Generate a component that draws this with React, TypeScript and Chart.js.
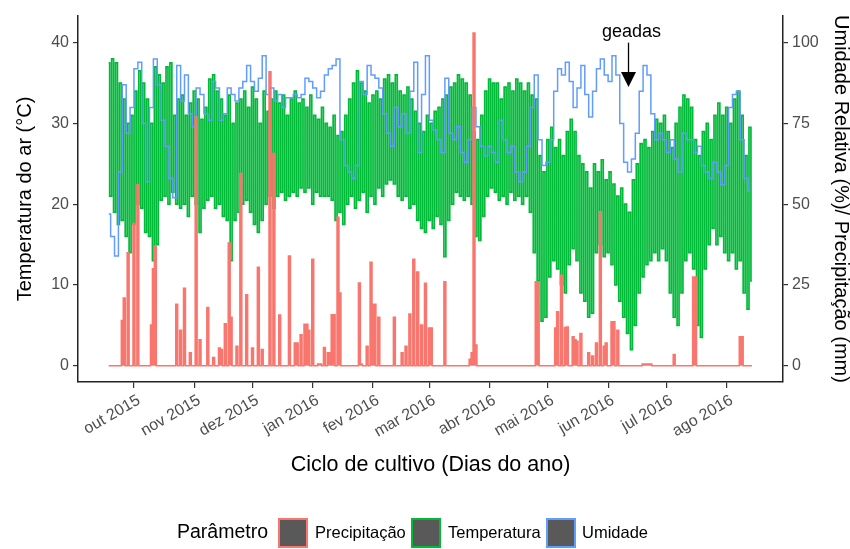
import React, { useEffect, useRef } from "react";
import { Chart, registerables } from "chart.js";
Chart.register(...registerables);

// ---- axis / category info ----
const referenceDay = "2015-10-01"; // day 0
const monthLabels = ["out 2015", "nov 2015", "dez 2015", "jan 2016", "fev 2016", "mar 2016", "abr 2016", "mai 2016", "jun 2016", "jul 2016", "ago 2016"];
const monthStarts = ["2015-10-01", "2015-11-01", "2015-12-01", "2016-01-01", "2016-02-01", "2016-03-01", "2016-04-01", "2016-05-01", "2016-06-01", "2016-07-01", "2016-08-01"];
const tempTicks = [0, 10, 20, 30, 40];
const humTicks = [0, 25, 50, 75, 100];

// samples every 2 days starting 2015-09-18 (day -13)
const sampleFirstDay = -13;
const sampleStep = 2;

// daily maximum temperature (°C) at each sample
const tempMax = [
  37.5, 38, 37.5, 35, 33, 30, 31, 34, 36.5, 35, 33, 30, 37, 36, 35, 37, 37.5, 31, 33, 33.5, 31, 32.5, 34, 33, 30.5, 32, 35.5, 36,
  34, 33, 31, 33.5, 30, 32.5, 33, 34, 32, 34.5, 33, 30, 34, 31.5, 33, 34, 32.5, 33.5, 31, 33, 34, 32.5, 33, 32, 33.5, 31, 30.5, 32,
  30, 29.5, 31, 28.5, 29, 31, 33, 35, 36.5, 35, 34, 32.5, 33.5, 34, 33, 35.5, 36, 35, 36, 34, 33.5, 34.5, 33, 31.5, 30, 29, 31, 30,
  31.5, 32, 33, 33.5, 34.5, 35, 36, 35.5, 35, 33.5, 29, 28, 31, 34, 35.5, 35, 35, 33, 34.5, 35, 34, 35.5, 35, 34, 35, 33.5, 33,
  26, 24, 28, 29.5, 27, 28, 26, 29, 30.5, 29, 26, 25, 24, 22, 25, 24, 25.5, 23, 24, 22.5, 21, 22, 20, 19, 23, 25, 27.5, 28,
  27, 29, 30.5, 30, 31, 29, 27, 30, 32, 33.5, 33, 32, 28, 26, 29, 30, 28, 31, 32.5, 31, 32, 30, 33, 34, 31, 26, 29.5,
];
// daily minimum temperature (°C), the day after each sample
const tempMin = [
  21, 19, 17.5, 18, 16, 14, 17.5, 20, 19.5, 16.5, 16, 13, 15, 20.5, 21, 20, 21.5, 20, 19.5, 20, 18.5, 21, 20, 16.5, 19.5, 20.5, 21, 19.5,
  20, 18.5, 18, 13, 18, 19, 20, 20.5, 19, 17.5, 16.5, 18, 20, 21, 19.5, 21, 21.5, 20.5, 21, 21.5, 21, 22, 21.5, 22, 20, 21.5, 21, 21,
  21, 20.5, 18, 19, 17.5, 20, 21, 19.5, 20.5, 21.5, 19, 21, 20, 22, 21, 22.5, 23, 22.5, 21, 20.5, 21, 19.5, 20, 18, 17, 16.5, 18, 17,
  18.5, 17.5, 13.5, 18, 20, 21.5, 21, 20.5, 21, 20, 16, 15.5, 18.5, 21, 22, 21.5, 20.5, 21, 20, 21.5, 20.5, 21, 20, 21, 19, 14, 10.5,
  5.5, 6, 11, 13, 12, 10, 9, 12.5, 14.5, 13, 9, 8, 6, 6.5, 14, 15, 13.5, 14, 12.5, 10, 8, 6, 4, 2, 5, 9, 11, 12.5,
  13, 14, 13, 14.5, 13, 9, 6, 5, 9, 13, 14, 12, 5, 3.5, 12, 15, 17, 15, 16, 14, 13, 14, 12, 13, 9, 7, 10.5,
];
// relative humidity (%) at each sample
const humidity = [
  47, 40, 34, 60, 87, 72, 80, 92, 94, 75, 57, 80, 95, 87, 76, 68, 58, 52, 93, 82, 90, 78, 74, 86, 84, 78, 76, 88,
  86, 76, 78, 86, 84, 82, 86, 88, 93, 88, 85, 89, 96, 84, 86, 82, 84, 80, 83, 83, 84, 83, 84, 89, 88, 86, 83, 85,
  90, 92, 93, 95, 70, 62, 60, 58, 62, 88, 84, 93, 90, 89, 86, 78, 72, 68, 80, 74, 78, 72, 85, 94, 66, 84, 96, 76,
  73, 70, 66, 89, 72, 70, 74, 66, 63, 70, 80, 74, 68, 65, 68, 66, 63, 76, 70, 66, 68, 60, 57, 60, 68, 80, 90,
  70, 62, 63, 70, 85, 92, 90, 94, 88, 80, 86, 93, 84, 77, 85, 92, 95, 90, 88, 96, 90, 75, 63, 60, 64, 72, 85, 93,
  90, 78, 70, 72, 70, 66, 70, 64, 60, 72, 70, 70, 66, 68, 62, 60, 58, 63, 60, 56, 62, 80, 84, 85, 70, 58, 54,
];

// rainfall events (day relative to 2015-10-01, mm); all other days 0 mm
const precipFirstDay = -13;
const precipLastDay = 318;
const precipDays = [
  -6, -5, -3, 0, 2, 9, 10, 11, 22, 24, 26, 29, 32, 34, 38, 41, 44, 45, 47, 49, 50, 53, 55, 58, 61, 64, 66, 70, 72, 75,
  80, 83, 84, 86, 88, 89, 90, 92, 95, 96, 98, 100, 101, 102, 103, 105, 106, 116, 117, 120, 122, 123, 124, 126, 134, 138,
  140, 142, 144, 146, 148, 150, 152, 153, 160, 173, 174, 175, 176, 207, 208, 217, 218, 220, 222, 223, 226, 227, 228, 230,
  234, 236, 238, 240, 242, 243, 246, 247, 249, 262, 263, 264, 265, 266, 278, 288, 289, 312, 313,
];
const precipMm = [
  14, 21, 35, 44, 56, 12.6, 30, 37, 19, 11, 24, 4, 77, 8, 18, 2.5, 5.5, 5, 13, 38, 15, 6, 59.5, 22, 5.5, 30.5, 5, 91, 65.7, 15.7,
  34, 7, 7, 9.6, 12.8, 12.8, 11, 33, 0.5, 0.5, 5.6, 4, 4, 15.8, 15.8, 46, 22.5, 25.6, 0.5, 6, 32, 19, 19, 15, 15, 4,
  6, 16, 33, 29, 12.6, 25.5, 11.7, 11.7, 26, 2, 4, 103, 6.4, 26, 26, 11.7, 16.7, 28, 11.8, 12, 9, 8, 7.6, 10,
  4, 3, 7, 47.7, 6, 7, 13.6, 13.6, 11, 0.5, 0.5, 0.5, 0.5, 0.5, 3.5, 27.5, 27.5, 9, 9,
];

// annotation
const geadasLabel = "geadas";
const geadasDay = 254.5;
const geadasTextT = 41.3;
const geadasArrowFromT = 40.0;
const geadasArrowToT = 34.5;

const legendTitle = "Parâmetro";
const seriesNames = ["Precipitação", "Temperatura", "Umidade"];
const seriesColors = ["#F8766D", "#00BA38", "#619CFF"];

const dayOf = (s: string) => Math.round((Date.parse(s) - Date.parse(referenceDay)) / 86400000);

export default function App() {
  const ref = useRef<HTMLCanvasElement | null>(null);

  useEffect(() => {
    document.body.style.margin = "0";
    const canvas = ref.current;
    if (!canvas) return;
    Chart.defaults.font.family = "'Liberation Sans', Arial, Helvetica, sans-serif";

    const monthDays = monthStarts.map(dayOf);

    const tempPts: { x: number; y: number }[] = [];
    tempMax.forEach((v, i) => {
      const d = sampleFirstDay + i * sampleStep;
      tempPts.push({ x: d, y: v });
      tempPts.push({ x: d + 1, y: tempMin[i] });
    });
    const humPts = humidity.map((v, i) => ({ x: sampleFirstDay + i * sampleStep, y: v }));
    const rain = new Map<number, number>();
    precipDays.forEach((d, i) => rain.set(d, precipMm[i]));
    const precipPts: { x: number; y: number }[] = [];
    for (let d = precipFirstDay; d <= precipLastDay; d++) precipPts.push({ x: d, y: rain.get(d) ?? 0 });

    const overlay = {
      id: "overlay",
      afterDatasetsDraw(chart: any) {
        const ctx = chart.ctx;
        const xs = chart.scales.x;
        const yT = chart.scales.yT;
        const px = xs.getPixelForValue(geadasDay);
        ctx.save();
        ctx.fillStyle = "#000";
        ctx.strokeStyle = "#000";
        ctx.font = "18px 'Liberation Sans', Arial, sans-serif";
        ctx.textAlign = "center";
        ctx.textBaseline = "middle";
        ctx.fillText(geadasLabel, px + 3, yT.getPixelForValue(geadasTextT));
        const y0 = yT.getPixelForValue(geadasArrowFromT);
        const y1 = yT.getPixelForValue(geadasArrowToT);
        ctx.lineWidth = 1.3;
        ctx.beginPath();
        ctx.moveTo(px, y0);
        ctx.lineTo(px, y1 - 14);
        ctx.stroke();
        ctx.beginPath();
        ctx.moveTo(px - 7.5, y1 - 15);
        ctx.lineTo(px + 7.5, y1 - 15);
        ctx.lineTo(px, y1);
        ctx.closePath();
        ctx.fill();
        ctx.restore();
      },
      afterDraw(chart: any) {
        const ctx = chart.ctx;
        ctx.save();
        ctx.textBaseline = "middle";
        ctx.textAlign = "left";
        ctx.fillStyle = "#000";
        ctx.font = "19.5px 'Liberation Sans', Arial, sans-serif";
        const cy = 533;
        ctx.fillText(legendTitle, 177, cy);
        const boxX = [278, 411, 546];
        const textX = [315, 448, 582];
        ctx.font = "16.5px 'Liberation Sans', Arial, sans-serif";
        seriesNames.forEach((name, i) => {
          ctx.fillStyle = "#595959";
          ctx.fillRect(boxX[i], cy - 15, 30, 30);
          ctx.strokeStyle = seriesColors[i];
          ctx.lineWidth = 2;
          ctx.strokeRect(boxX[i] + 1, cy - 14, 28, 28);
          ctx.fillStyle = "#000";
          ctx.fillText(name, textX[i], cy);
        });
        ctx.restore();
      },
    };

    const axisGrid = { display: true, drawOnChartArea: false, drawTicks: true, tickLength: 5, color: "#333", lineWidth: 1.2 };
    const axisBorder = { display: true, color: "#222", width: 1.5 };

    const chart = new Chart(canvas, {
      type: "line",
      data: {
        datasets: [
          {
            label: seriesNames[0],
            data: precipPts,
            yAxisID: "yH",
            borderColor: seriesColors[0],
            backgroundColor: seriesColors[0],
            borderWidth: 1.5,
            pointRadius: 0,
            stepped: "middle",
            fill: "origin",
          },
          {
            label: seriesNames[2],
            data: humPts,
            yAxisID: "yH",
            borderColor: seriesColors[2],
            borderWidth: 1.5,
            pointRadius: 0,
            stepped: "middle",
            fill: false,
          },
          {
            label: seriesNames[1],
            data: tempPts,
            yAxisID: "yT",
            borderColor: seriesColors[1],
            borderWidth: 1.7,
            pointRadius: 0,
            stepped: "middle",
            fill: false,
          },
        ],
      },
      options: {
        animation: false,
        responsive: false,
        maintainAspectRatio: false,
        events: [],
        layout: { padding: { left: 0, right: 0, top: 16, bottom: 71 } },
        plugins: { legend: { display: false }, tooltip: { enabled: false } },
        scales: {
          x: {
            type: "linear",
            position: "bottom",
            min: -28.8,
            max: 334,
            grid: { ...axisGrid, tickLength: 6 },
            border: axisBorder,
            ticks: {
              autoSkip: false,
              minRotation: 30,
              maxRotation: 30,
              padding: 3,
              labelOffset: 5,
              color: "#4D4D4D",
              font: { size: 16 },
              callback: (_v: any, i: number) => monthLabels[i],
            },
            title: {
              display: true,
              text: "Ciclo de cultivo (Dias do ano)",
              color: "#000",
              font: { size: 21.5 },
              padding: { top: 0, bottom: 0 },
            },
            afterBuildTicks: (s: any) => {
              s.ticks = monthDays.map((v) => ({ value: v }));
            },
            afterFit: (s: any) => {
              s.height = 96;
            },
          },
          yT: {
            type: "linear",
            position: "left",
            min: -2.02,
            max: 43.3,
            grid: axisGrid,
            border: axisBorder,
            ticks: { padding: 4, color: "#4D4D4D", font: { size: 16 } },
            title: {
              display: true,
              text: "Temperatura do ar (°C)",
              color: "#000",
              font: { size: 20 },
              padding: { top: 13, bottom: 0 },
            },
            afterBuildTicks: (s: any) => {
              s.ticks = tempTicks.map((v) => ({ value: v }));
            },
            afterFit: (s: any) => {
              s.width = 78;
            },
          },
          yH: {
            type: "linear",
            position: "right",
            min: -5.05,
            max: 108.3,
            grid: axisGrid,
            border: axisBorder,
            ticks: { padding: 4, color: "#4D4D4D", font: { size: 16 } },
            title: {
              display: true,
              text: "Umidade Relativa (%)/ Precipitação (mm)",
              color: "#000",
              font: { size: 20 },
              padding: { top: -3, bottom: 0 },
            },
            afterBuildTicks: (s: any) => {
              s.ticks = humTicks.map((v) => ({ value: v }));
            },
            afterFit: (s: any) => {
              s.width = 67;
            },
          },
        },
      } as any,
      plugins: [overlay],
    });
    return () => chart.destroy();
  }, []);

  return (
    <div style={{ width: 850, height: 549, background: "#fff" }}>
      <canvas ref={ref} width={850} height={549} style={{ display: "block", width: 850, height: 549 }} />
    </div>
  );
}
